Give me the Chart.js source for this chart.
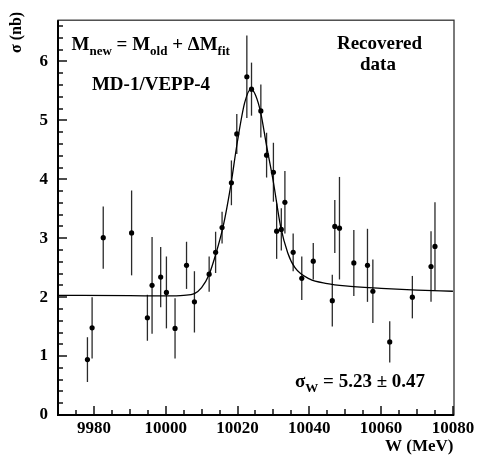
<!DOCTYPE html>
<html>
<head>
<meta charset="utf-8">
<script src="https://cdn.jsdelivr.net/npm/chart.js@4.4.1/dist/chart.umd.min.js"></script>
<style>
  html, body { margin: 0; padding: 0; background: #fff; }
  #chart { display: block; }
</style>
</head>
<body>
<canvas id="chart" width="479" height="455"></canvas>
<script>
// measured points (W in MeV, sigma in nb, symmetric error)
const energies = [9978.2, 9979.5, 9982.6, 9990.5, 9994.9, 9996.2, 9998.6, 10000.2, 10002.6, 10005.8,
  10008.0, 10012.1, 10013.9, 10015.7, 10018.3, 10019.8, 10022.6, 10023.9, 10026.5, 10028.1,
  10030.0, 10030.9, 10032.2, 10033.2, 10035.5, 10037.9, 10041.1, 10046.4, 10047.1, 10048.4,
  10052.4, 10056.2, 10057.7, 10062.4, 10068.7, 10073.9, 10075.0]
const crossSections = [0.94, 1.48, 3.01, 3.09, 1.65, 2.20, 2.34, 2.08, 1.47, 2.54,
  1.92, 2.39, 2.76, 3.18, 3.94, 4.77, 5.74, 5.53, 5.16, 4.41,
  4.12, 3.12, 3.15, 3.61, 2.76, 2.32, 2.61, 1.94, 3.20, 3.17,
  2.58, 2.54, 2.10, 1.24, 2.00, 2.52, 2.86]
const errors = [0.38, 0.52, 0.53, 0.72, 0.39, 0.82, 0.51, 0.61, 0.51, 0.40,
  0.52, 0.30, 0.35, 0.27, 0.38, 0.34, 0.70, 0.45, 0.45, 0.38,
  0.50, 0.47, 0.36, 0.53, 0.32, 0.37, 0.31, 0.44, 0.45, 0.87,
  0.56, 0.62, 0.54, 0.35, 0.36, 0.60, 0.75]

// fit curve
const fitEnergies = [9970, 9990, 10000, 10005, 10008, 10010, 10012, 10014, 10016, 10018,
  10020, 10022, 10023.7, 10025, 10026.5, 10028, 10030, 10032, 10034, 10036,
  10040, 10045, 10050, 10060, 10070, 10080]
const fitValues = [2.03, 2.025, 2.02, 2.03, 2.06, 2.16, 2.37, 2.74, 3.2, 3.85,
  4.65, 5.3, 5.53, 5.43, 5.12, 4.6, 3.95, 3.2, 2.75, 2.5,
  2.31, 2.23, 2.19, 2.15, 2.12, 2.1]

const xTickValues = [9980, 10000, 10020, 10040, 10060, 10080]
const yTickValues = [0, 1, 2, 3, 4, 5, 6]

const serif = '"Liberation Serif", "Times New Roman", serif'

function drawRich(ctx, parts, x, y, size, subSize) {
  let cx = x
  parts.forEach((p) => {
    ctx.font = 'bold ' + (p.sub ? subSize : size) + 'px ' + serif
    ctx.fillText(p.t, cx, p.sub ? y + 5 : y)
    cx += ctx.measureText(p.t).width
  })
}

const decorations = {
  id: 'decorations',
  beforeDatasetsDraw(chart) {
    const ctx = chart.ctx
    const xs = chart.scales.x
    const ys = chart.scales.y
    ctx.save()
    ctx.strokeStyle = '#2a2a2a'
    ctx.lineWidth = 1.3
    energies.forEach((w, i) => {
      const px = xs.getPixelForValue(w)
      ctx.beginPath()
      ctx.moveTo(px, ys.getPixelForValue(crossSections[i] + errors[i]))
      ctx.lineTo(px, ys.getPixelForValue(crossSections[i] - errors[i]))
      ctx.stroke()
    })
    ctx.restore()
  },
  afterDraw(chart) {
    const ctx = chart.ctx
    const area = chart.chartArea
    const xs = chart.scales.x
    const ys = chart.scales.y
    ctx.save()

    // frame
    ctx.strokeStyle = '#333'
    ctx.lineWidth = 1.3
    ctx.strokeRect(area.left, area.top, area.right - area.left, area.bottom - area.top)
    ctx.strokeStyle = '#000'
    ctx.lineWidth = 2
    ctx.beginPath()
    ctx.moveTo(area.left, area.top)
    ctx.lineTo(area.left, area.bottom)
    ctx.lineTo(area.right, area.bottom)
    ctx.stroke()

    // ticks, pointing inwards
    ctx.fillStyle = '#000'
    for (let w = 9975; w <= 10080; w += 5) {
      const px = Math.round(xs.getPixelForValue(w))
      const len = w % 20 === 0 ? 9 : (w % 10 === 0 ? 6 : 5)
      ctx.fillRect(px - 0.7, area.bottom - len, 1.4, len)
    }
    for (let k = 1; k <= 33; k++) {
      const py = Math.round(ys.getPixelForValue(k * 0.2))
      const len = k % 5 === 0 ? 9 : 5
      ctx.fillRect(area.left, py - 0.7, len, 1.4)
    }

    // texts
    ctx.textBaseline = 'alphabetic'
    ctx.textAlign = 'left'
    drawRich(ctx, [
      { t: 'M' }, { t: 'new', sub: true }, { t: ' = M' }, { t: 'old', sub: true },
      { t: ' + ΔM' }, { t: 'fit', sub: true }
    ], 71.5, 50, 19, 13)

    ctx.font = 'bold 19px ' + serif
    ctx.textAlign = 'center'
    ctx.fillText('MD-1/VEPP-4', 151, 90)
    ctx.fillText('Recovered', 379.5, 49)
    ctx.fillText('data', 378, 70)

    ctx.textAlign = 'left'
    drawRich(ctx, [
      { t: 'σ' }, { t: 'W', sub: true }, { t: ' = 5.23 ± 0.47' }
    ], 295, 387, 19, 13)

    ctx.font = 'bold 17px ' + serif
    ctx.textAlign = 'right'
    ctx.fillText('W (MeV)', 453.5, 451)

    ctx.translate(21, 53)
    ctx.rotate(-Math.PI / 2)
    ctx.textAlign = 'left'
    ctx.font = 'bold 16px ' + serif
    ctx.fillText('σ (nb)', 0, 0)

    ctx.restore()
  }
}

new Chart(document.getElementById('chart'), {
  type: 'scatter',
  data: {
    datasets: [{
      label: 'data',
      data: energies.map((w, i) => ({ x: w, y: crossSections[i] })),
      pointRadius: 2.6,
      pointBackgroundColor: '#000',
      pointBorderWidth: 0,
      showLine: false,
      order: 0
    }, {
      label: 'fit',
      data: fitEnergies.map((w, i) => ({ x: w, y: fitValues[i] })),
      showLine: true,
      borderColor: '#000',
      borderWidth: 1.3,
      pointRadius: 0,
      cubicInterpolationMode: 'monotone',
      order: 1
    }]
  },
  options: {
    responsive: false,
    animation: false,
    events: [],
    layout: { padding: { left: 0, top: 8, right: 25, bottom: 0 } },
    plugins: { legend: { display: false }, tooltip: { enabled: false } },
    scales: {
      x: {
        type: 'linear',
        min: 9970,
        max: 10080.3,
        afterFit: (scale) => { scale.height = 40 },
        afterBuildTicks: (scale) => { scale.ticks = xTickValues.map((v) => ({ value: v })) },
        grid: { display: false, drawTicks: false },
        border: { display: false },
        ticks: {
          color: '#000',
          padding: 3,
          maxRotation: 0,
          autoSkip: false,
          callback: (v) => String(v),
          font: { family: serif, size: 17, weight: 'bold' }
        }
      },
      y: {
        type: 'linear',
        min: 0,
        max: 6.7,
        afterFit: (scale) => { scale.width = 58 },
        afterBuildTicks: (scale) => { scale.ticks = yTickValues.map((v) => ({ value: v })) },
        grid: { display: false, drawTicks: false },
        border: { display: false },
        ticks: {
          color: '#000',
          padding: 10,
          callback: (v) => String(v),
          font: { family: serif, size: 17, weight: 'bold' }
        }
      }
    }
  },
  plugins: [decorations]
})
</script>
</body>
</html>
